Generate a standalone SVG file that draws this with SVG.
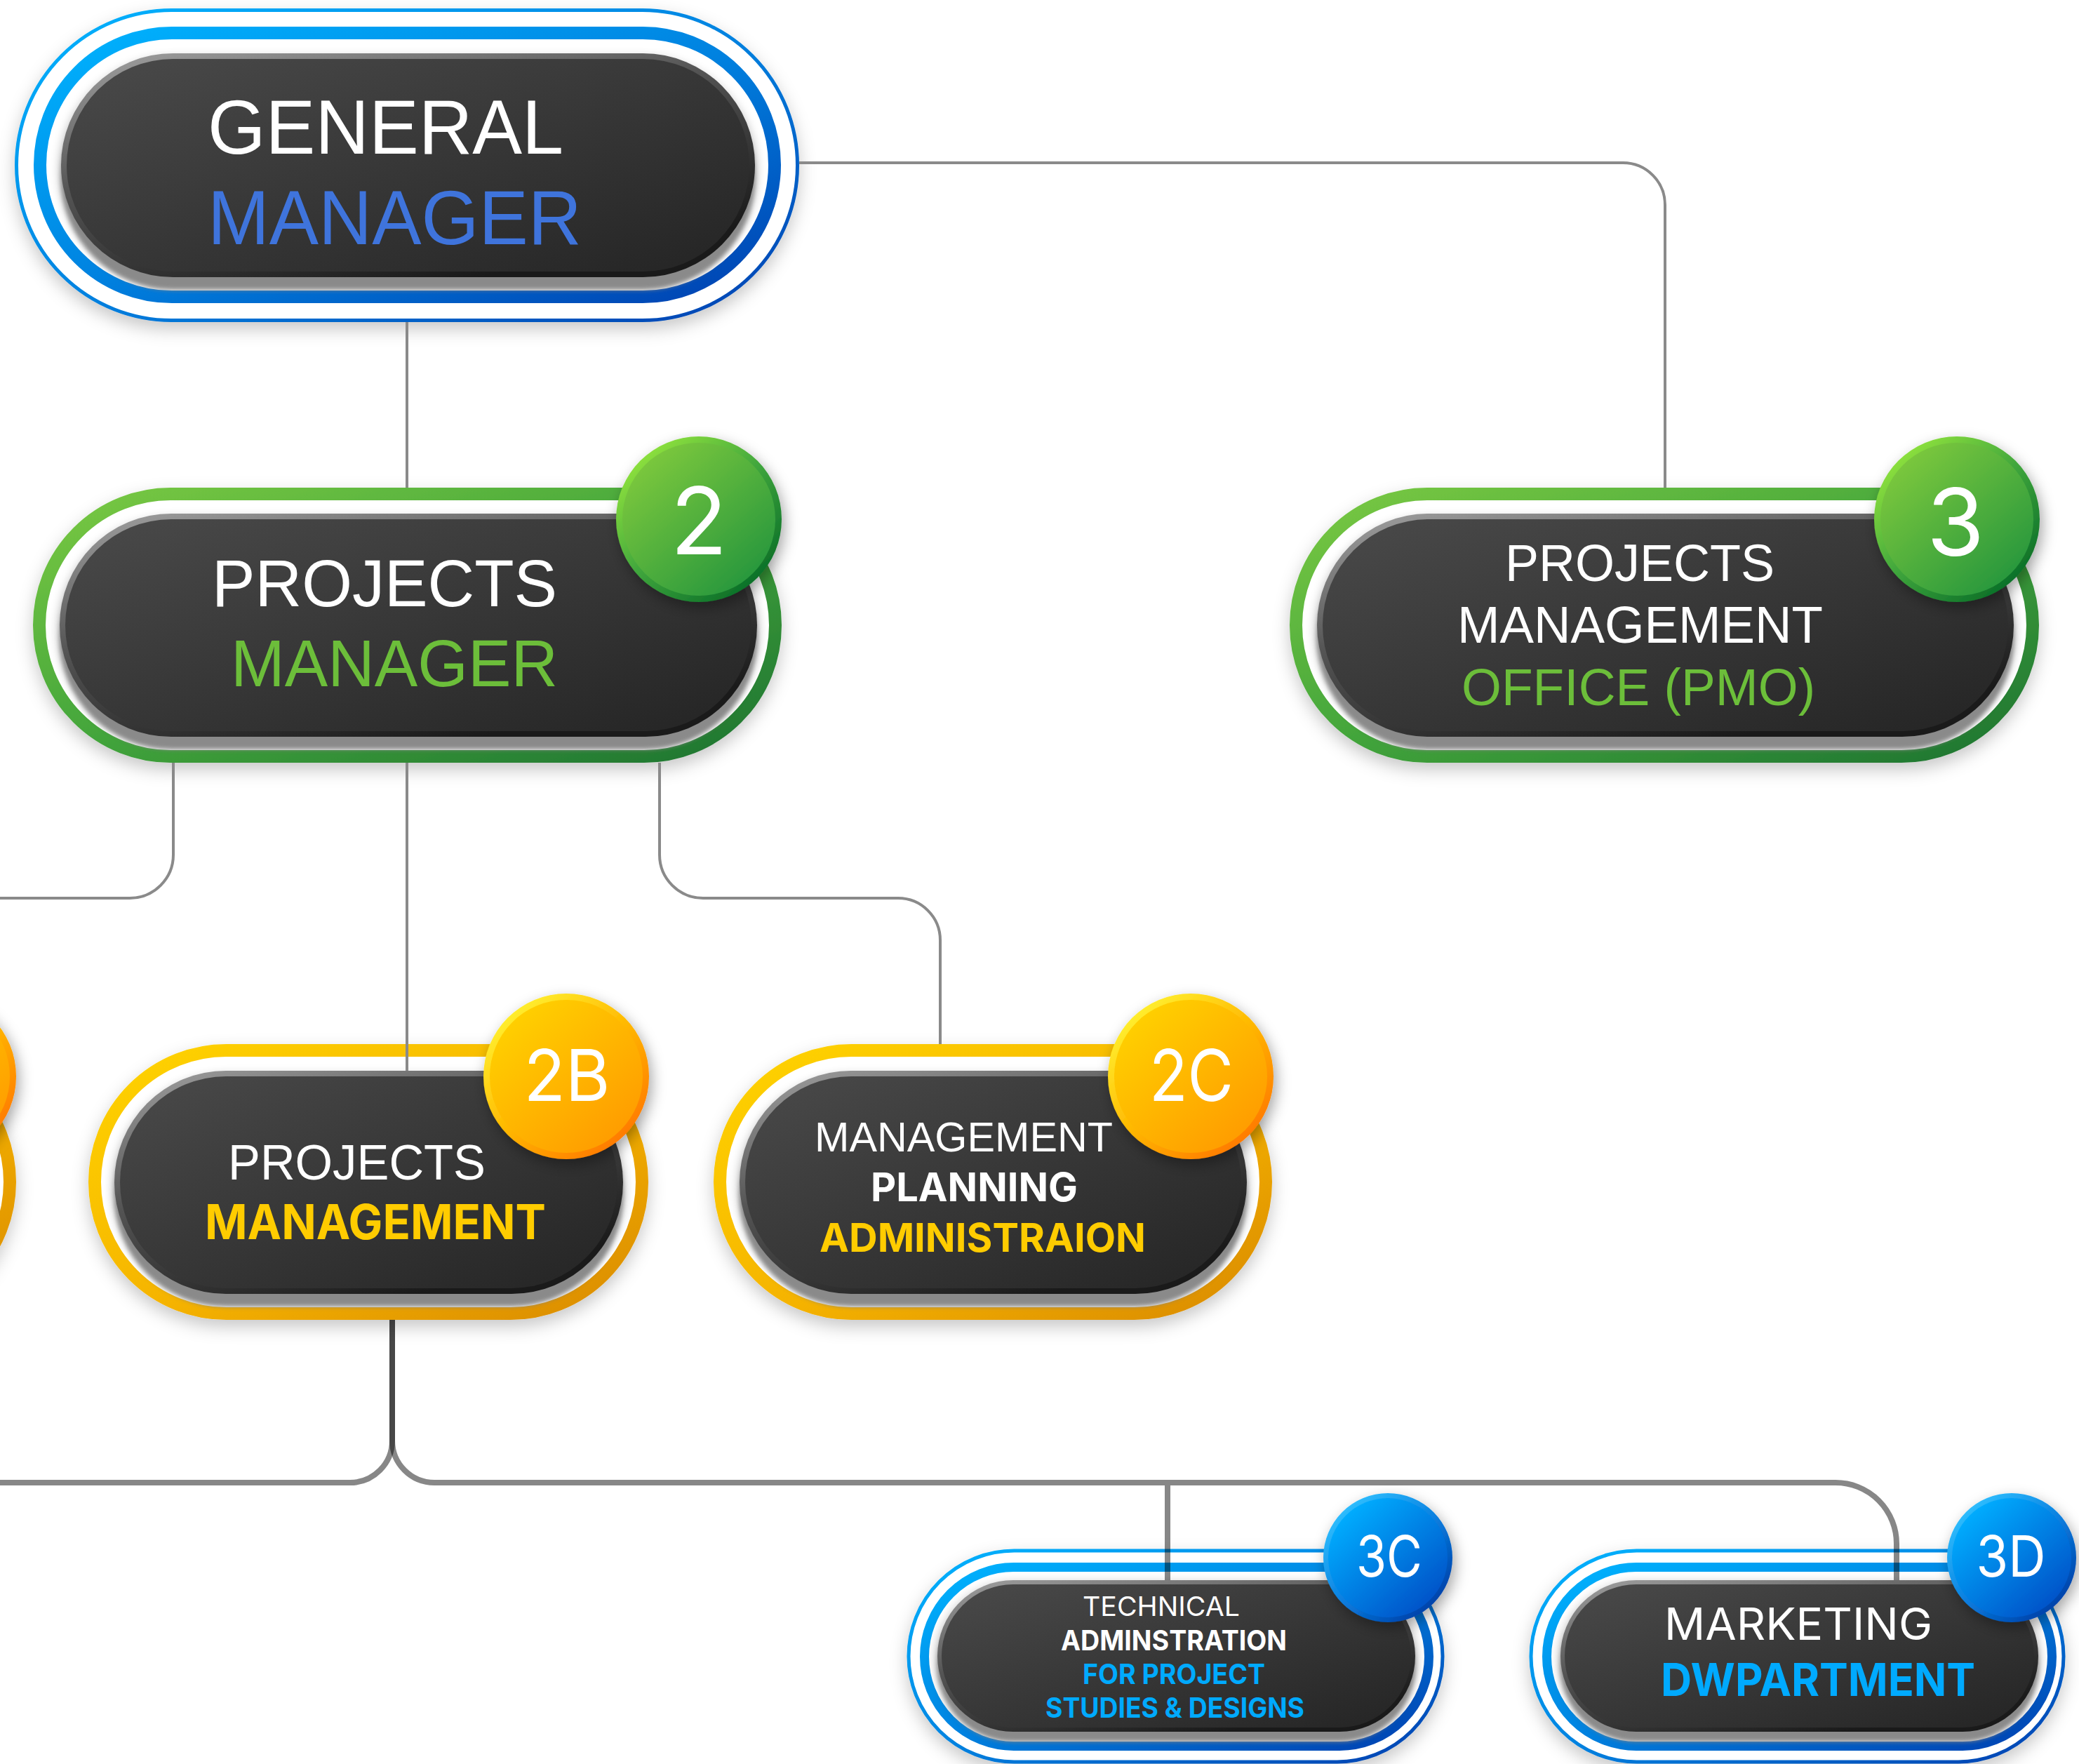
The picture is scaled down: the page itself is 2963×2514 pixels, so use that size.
<svg xmlns="http://www.w3.org/2000/svg" width="2963" height="2514" viewBox="0 0 2963 2514">
<style>
.lbl{font-family:"Liberation Sans",Arial,sans-serif;}
.int{font-family:Inter,"Liberation Sans",Arial,sans-serif;}
.w{fill:#ffffff;}
.gmBlue{fill:#3f74dc;}
.grn{fill:#6cbe3a;}
.yel{fill:#ffcc00;}
.blu{fill:#00aaff;}
.b{font-weight:700;}
.badgeTxt{font-family:Inter,"Noto Sans",sans-serif;fill:#ffffff;text-anchor:middle;font-weight:400;}
.rim{fill:url(#rim);}
.pill{fill:url(#dark);}
.under{fill:#8a8a8a;filter:url(#blur3);}
.soft{fill:#000;opacity:0.35;filter:url(#blur8);}
.ringG{fill:#fff;stroke:url(#gGreen);stroke-width:18;filter:url(#halo);}
.ringY{fill:#fff;stroke:url(#gYellow);stroke-width:18;filter:url(#halo);}
.ringB{fill:#fff;stroke:url(#gBlue);stroke-width:18;}
.ringB13{fill:#fff;stroke:url(#gBlue);stroke-width:13;}
.thinB{fill:#fff;stroke:url(#gBlue);stroke-width:5;filter:url(#halo);}
.thin{fill:none;stroke:#8a8a8a;stroke-width:4;}
.thick{fill:none;stroke:#000;stroke-opacity:0.47;stroke-width:8;}
</style>
<defs>
<linearGradient id="dark" x1="0" y1="0" x2="1" y2="1"><stop offset="0" stop-color="#4a4a4a"/><stop offset="1" stop-color="#242424"/></linearGradient>
<linearGradient id="rim" x1="0" y1="0" x2="0.6" y2="1"><stop offset="0" stop-color="#a2a2a2"/><stop offset="0.45" stop-color="#555"/><stop offset="1" stop-color="#1a1a1a"/></linearGradient>
<linearGradient id="gGreen" x1="0" y1="0" x2="1" y2="1"><stop offset="0" stop-color="#7ac943"/><stop offset="0.5" stop-color="#43a53b"/><stop offset="1" stop-color="#1e7331"/></linearGradient>
<linearGradient id="gYellow" x1="0" y1="0" x2="1" y2="1"><stop offset="0" stop-color="#ffd400"/><stop offset="0.55" stop-color="#f5b300"/><stop offset="1" stop-color="#d98a00"/></linearGradient>
<linearGradient id="gBlue" x1="0" y1="0" x2="1" y2="1"><stop offset="0" stop-color="#00b4ff"/><stop offset="0.5" stop-color="#0082e0"/><stop offset="1" stop-color="#0040b0"/></linearGradient>
<linearGradient id="bgBorder" x1="0.15" y1="0.1" x2="0.85" y2="0.9"><stop offset="0" stop-color="#8fe23c"/><stop offset="0.5" stop-color="#3fa53c"/><stop offset="1" stop-color="#0a6e28"/></linearGradient>
<linearGradient id="bgFill" x1="0.15" y1="0.1" x2="0.85" y2="0.9"><stop offset="0" stop-color="#7cc83c"/><stop offset="1" stop-color="#27973e"/></linearGradient>
<linearGradient id="byBorder" x1="0.15" y1="0.1" x2="0.85" y2="0.9"><stop offset="0" stop-color="#fff030"/><stop offset="0.5" stop-color="#ffb800"/><stop offset="1" stop-color="#ff7800"/></linearGradient>
<linearGradient id="byFill" x1="0.15" y1="0.1" x2="0.85" y2="0.9"><stop offset="0" stop-color="#ffd000"/><stop offset="1" stop-color="#ff9c00"/></linearGradient>
<linearGradient id="bbBorder" x1="0.15" y1="0.1" x2="0.85" y2="0.9"><stop offset="0" stop-color="#30c0ff"/><stop offset="0.5" stop-color="#0a80e0"/><stop offset="1" stop-color="#003fa8"/></linearGradient>
<linearGradient id="bbFill" x1="0.15" y1="0.1" x2="0.85" y2="0.9"><stop offset="0" stop-color="#00aeff"/><stop offset="1" stop-color="#0052c8"/></linearGradient>
<filter id="halo" x="-10%" y="-20%" width="120%" height="150%"><feDropShadow dx="0" dy="10" stdDeviation="12" flood-color="#000" flood-opacity="0.22"/></filter>
<filter id="blur3" x="-5%" y="-10%" width="110%" height="120%"><feGaussianBlur stdDeviation="3"/></filter>
<filter id="blur8" x="-10%" y="-20%" width="120%" height="140%"><feGaussianBlur stdDeviation="8"/></filter>
<filter id="bshadow" x="-40%" y="-40%" width="180%" height="180%"><feDropShadow dx="4" dy="8" stdDeviation="10" flood-color="#000" flood-opacity="0.35"/></filter>
</defs>
<rect x="0" y="0" width="2963" height="2514" fill="#ffffff"/>

<!-- GENERAL MANAGER -->
<g id="node-gm">
<rect class="thinB" x="23.5" y="14.5" width="1113" height="442" rx="221"/>
<rect class="ringB" x="57" y="47" width="1047" height="376" rx="188"/>
<rect class="soft" x="87" y="84" width="989" height="319" rx="159.5"/>
<rect class="under" x="87" y="94" width="989" height="319" rx="159.5"/>
<rect class="rim" x="87" y="76" width="989" height="319" rx="159.5"/>
<rect class="pill" x="95" y="84" width="973" height="303" rx="151.5"/>
<text class="lbl w" x="296" y="219" font-size="109" textLength="507" lengthAdjust="spacingAndGlyphs">GENERAL</text>
<text class="lbl gmBlue" x="296" y="348" font-size="109" textLength="533" lengthAdjust="spacingAndGlyphs">MANAGER</text>
</g>

<!-- PROJECTS MANAGER -->
<g id="node-pm">
<rect class="ringG" x="56" y="704" width="1049" height="374" rx="187"/>
<rect class="soft" x="85" y="740" width="994" height="318" rx="159"/>
<rect class="under" x="85" y="750" width="994" height="318" rx="159"/>
<rect class="rim" x="85" y="732" width="994" height="318" rx="159"/>
<rect class="pill" x="93" y="740" width="978" height="302" rx="151"/>
<text class="lbl w" x="302" y="864" font-size="95" textLength="492" lengthAdjust="spacingAndGlyphs">PROJECTS</text>
<text class="lbl grn" x="329" y="978" font-size="95" textLength="466" lengthAdjust="spacingAndGlyphs">MANAGER</text>
<g filter="url(#bshadow)"><circle cx="996" cy="740" r="118" fill="url(#bgBorder)"/><circle cx="996" cy="740" r="109" fill="url(#bgFill)"/></g>
<text class="badgeTxt" x="996" y="790" font-size="133">2</text>
</g>

<!-- PMO -->
<g id="node-pmo">
<rect class="ringG" x="1847" y="704" width="1050" height="374" rx="187"/>
<rect class="soft" x="1877" y="740" width="993" height="318" rx="159"/>
<rect class="under" x="1877" y="750" width="993" height="318" rx="159"/>
<rect class="rim" x="1877" y="732" width="993" height="318" rx="159"/>
<rect class="pill" x="1885" y="740" width="977" height="302" rx="151"/>
<text class="lbl w" x="2145" y="828" font-size="74" textLength="384" lengthAdjust="spacingAndGlyphs">PROJECTS</text>
<text class="lbl w" x="2077" y="916" font-size="74" textLength="521" lengthAdjust="spacingAndGlyphs">MANAGEMENT</text>
<text class="lbl grn" x="2083" y="1005" font-size="74" textLength="504" lengthAdjust="spacingAndGlyphs">OFFICE (PMO)</text>
<g filter="url(#bshadow)"><circle cx="2789" cy="740" r="118" fill="url(#bgBorder)"/><circle cx="2789" cy="740" r="109" fill="url(#bgFill)"/></g>
<text class="badgeTxt" x="2787" y="792" font-size="133">3</text>
</g>

<!-- partial node at left edge -->
<g id="node-2a">
<rect class="ringY" x="-766" y="1497" width="780" height="375" rx="187.5"/>
<rect class="soft" x="-763" y="1534" width="725" height="318" rx="159"/>
<rect class="under" x="-763" y="1544" width="725" height="318" rx="159"/>
<rect class="rim" x="-763" y="1526" width="725" height="318" rx="159"/>
<g filter="url(#bshadow)"><circle cx="-95" cy="1534" r="118" fill="url(#byBorder)"/><circle cx="-95" cy="1534" r="109" fill="url(#byFill)"/></g>
</g>

<!-- 2B -->
<g id="node-2b">
<rect class="ringY" x="135" y="1497" width="780" height="375" rx="187.5"/>
<rect class="soft" x="163" y="1534" width="725" height="318" rx="159"/>
<rect class="under" x="163" y="1544" width="725" height="318" rx="159"/>
<rect class="rim" x="163" y="1526" width="725" height="318" rx="159"/>
<rect class="pill" x="171" y="1534" width="709" height="302" rx="151"/>
<text class="lbl w" x="325" y="1681" font-size="70" textLength="367" lengthAdjust="spacingAndGlyphs">PROJECTS</text>
<text class="int b yel" x="292" y="1766" font-size="69" textLength="486" lengthAdjust="spacingAndGlyphs">MANAGEMENT</text>
<g filter="url(#bshadow)"><circle cx="807" cy="1534" r="118" fill="url(#byBorder)"/><circle cx="807" cy="1534" r="109" fill="url(#byFill)"/></g>
<text class="badgeTxt" x="808" y="1569" font-size="102" textLength="123" lengthAdjust="spacingAndGlyphs">2B</text>
</g>

<!-- 2C -->
<g id="node-2c">
<rect class="ringY" x="1026" y="1497" width="778" height="375" rx="187.5"/>
<rect class="soft" x="1054" y="1534" width="723" height="318" rx="159"/>
<rect class="under" x="1054" y="1544" width="723" height="318" rx="159"/>
<rect class="rim" x="1054" y="1526" width="723" height="318" rx="159"/>
<rect class="pill" x="1062" y="1534" width="707" height="302" rx="151"/>
<text class="lbl w" x="1161" y="1641" font-size="60" textLength="425" lengthAdjust="spacingAndGlyphs">MANAGEMENT</text>
<text class="int b w" x="1241" y="1712" font-size="57" textLength="295" lengthAdjust="spacingAndGlyphs">PLANNING</text>
<text class="int b yel" x="1168" y="1784" font-size="57" textLength="465" lengthAdjust="spacingAndGlyphs">ADMINISTRAION</text>
<g filter="url(#bshadow)"><circle cx="1697" cy="1534" r="118" fill="url(#byBorder)"/><circle cx="1697" cy="1534" r="109" fill="url(#byFill)"/></g>
<text class="badgeTxt" x="1698" y="1569" font-size="102" textLength="120" lengthAdjust="spacingAndGlyphs">2C</text>
</g>

<!-- 3C -->
<g id="node-3c">
<rect class="thinB" x="1295" y="2210" width="761" height="301" rx="150.5"/>
<rect class="ringB13" x="1317.5" y="2233.5" width="719" height="255" rx="127.5"/>
<rect class="soft" x="1336" y="2258" width="681" height="216" rx="108"/>
<rect class="under" x="1336" y="2266" width="681" height="216" rx="108"/>
<rect class="rim" x="1336" y="2252" width="681" height="216" rx="108"/>
<rect class="pill" x="1342" y="2258" width="669" height="204" rx="102"/>
<text class="int w" x="1543" y="2303" font-size="38" textLength="224" lengthAdjust="spacingAndGlyphs">TECHNICAL</text>
<text class="int b w" x="1512" y="2352" font-size="40" textLength="322" lengthAdjust="spacingAndGlyphs">ADMINSTRATION</text>
<text class="int b blu" x="1543" y="2400" font-size="39" textLength="260" lengthAdjust="spacingAndGlyphs">FOR PROJECT</text>
<text class="int b blu" x="1490" y="2448" font-size="39" textLength="369" lengthAdjust="spacingAndGlyphs">STUDIES &amp; DESIGNS</text>
<g filter="url(#bshadow)"><circle cx="1978" cy="2220" r="92" fill="url(#bbBorder)"/><circle cx="1978" cy="2220" r="85" fill="url(#bbFill)"/></g>
<text class="badgeTxt" x="1980" y="2247" font-size="81" textLength="94" lengthAdjust="spacingAndGlyphs">3C</text>
</g>

<!-- 3D -->
<g id="node-3d">
<rect class="thinB" x="2182" y="2210" width="759" height="301" rx="150.5"/>
<rect class="ringB13" x="2204.5" y="2233.5" width="720" height="255" rx="127.5"/>
<rect class="soft" x="2224" y="2258" width="681" height="216" rx="108"/>
<rect class="under" x="2224" y="2266" width="681" height="216" rx="108"/>
<rect class="rim" x="2224" y="2252" width="681" height="216" rx="108"/>
<rect class="pill" x="2230" y="2258" width="669" height="204" rx="102"/>
<text class="int w" x="2372" y="2337" font-size="63" textLength="382" lengthAdjust="spacingAndGlyphs">MARKETING</text>
<text class="int b blu" x="2367" y="2417" font-size="65" textLength="448" lengthAdjust="spacingAndGlyphs">DWPARTMENT</text>
<g filter="url(#bshadow)"><circle cx="2867" cy="2220" r="92" fill="url(#bbBorder)"/><circle cx="2867" cy="2220" r="85" fill="url(#bbFill)"/></g>
<text class="badgeTxt" x="2866" y="2247" font-size="81" textLength="99" lengthAdjust="spacingAndGlyphs">3D</text>
</g>

<!-- CONNECTORS -->
<g id="connectors">
<path class="thin" d="M580,459 V695"/>
<path class="thin" d="M1139,232 H2313 A60,60 0 0 1 2373,292 V695"/>
<path class="thin" d="M247,1087 V1218 A62,62 0 0 1 185,1280 H0"/>
<path class="thin" d="M580,1087 V1526"/>
<path class="thin" d="M940,1087 V1218 A62,62 0 0 0 1002,1280 H1280 A60,60 0 0 1 1340,1340 V1488"/>
<path class="thick" d="M559,1881 V2053 A60,60 0 0 1 499,2113 H0"/>
<path class="thick" d="M559,1881 V2053 A60,60 0 0 0 619,2113 H2616 A87,87 0 0 1 2703,2200 V2252"/>
<path class="thick" d="M1664,2117 V2252"/>
</g>
</svg>
